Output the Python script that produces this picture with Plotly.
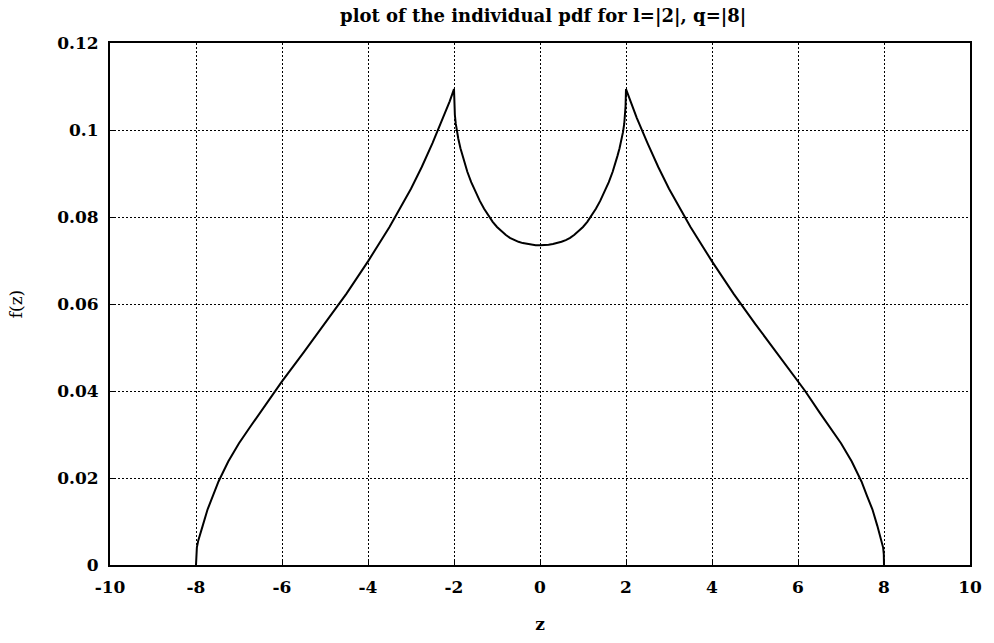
import plotly.graph_objects as go

z_vals = [-8.0, -7.995, -7.98, -7.95, -7.92, -7.845, -7.73, -7.6, -7.476, -7.25, -7.0, -6.75, -6.5, -6.166, -6.0,
          -5.5, -5.0, -4.5, -4.0, -3.5, -3.0, -2.75, -2.5, -2.25, -2.1, -2.0,
          -1.99, -1.98, -1.96, -1.93, -1.9, -1.85, -1.8, -1.75, -1.69, -1.6, -1.5, -1.4, -1.3, -1.2, -1.1,
          -1.0, -0.9, -0.8, -0.7, -0.6, -0.5, -0.4, -0.3, -0.2, -0.1, 0.0,
          0.1, 0.2, 0.3, 0.4, 0.5, 0.6, 0.7, 0.8, 0.9, 1.0,
          1.1, 1.2, 1.3, 1.4, 1.5, 1.6, 1.69, 1.75, 1.8, 1.85, 1.9, 1.93, 1.96, 1.98, 1.99,
          2.0, 2.1, 2.25, 2.5, 2.75, 3.0, 3.5, 4.0, 4.5, 5.0, 5.5,
          6.0, 6.166, 6.5, 6.75, 7.0, 7.25, 7.476, 7.6, 7.73, 7.845, 7.92, 7.95, 7.98, 7.995, 8.0]
f_vals = [0.0, 0.0025, 0.0040, 0.0055, 0.0064, 0.0090, 0.0128, 0.0160, 0.0192, 0.0238, 0.0280, 0.0316, 0.0351, 0.0400, 0.0422,
          0.0488, 0.0555, 0.0624, 0.0698, 0.0777, 0.0865, 0.0915, 0.0970, 0.1028, 0.1066, 0.1094,
          0.1055, 0.1035, 0.1015, 0.0995, 0.0980, 0.0958, 0.0940, 0.0922, 0.0904, 0.0880, 0.0858, 0.0837, 0.0819, 0.0803, 0.0789,
          0.0777, 0.0767, 0.0759, 0.0752, 0.0747, 0.0743, 0.0740, 0.0738, 0.0736, 0.0735, 0.0735,
          0.0735, 0.0736, 0.0738, 0.0740, 0.0743, 0.0747, 0.0752, 0.0759, 0.0767, 0.0777,
          0.0789, 0.0803, 0.0819, 0.0837, 0.0858, 0.0880, 0.0904, 0.0922, 0.0940, 0.0958, 0.0980, 0.0995, 0.1015, 0.1035, 0.1055,
          0.1094, 0.1066, 0.1028, 0.0970, 0.0915, 0.0865, 0.0777, 0.0698, 0.0624, 0.0555, 0.0488,
          0.0422, 0.0400, 0.0351, 0.0316, 0.0280, 0.0238, 0.0192, 0.0160, 0.0128, 0.0090, 0.0064, 0.0055, 0.0040, 0.0025, 0.0]

x_ticks = [-10, -8, -6, -4, -2, 0, 2, 4, 6, 8, 10]
x_tick_text = ["-10", "-8", "-6", "-4", "-2", "0", "2", "4", "6", "8", "10"]
y_ticks = [0, 0.02, 0.04, 0.06, 0.08, 0.1, 0.12]
y_tick_text = ["0", "0.02", "0.04", "0.06", "0.08", "0.1", "0.12"]

title_text = "plot of the individual pdf for l=|2|, q=|8|"
x_label = "z"
y_label = "f(z)"

font_family = "DejaVu Serif"

fig = go.Figure()
fig.add_trace(go.Scatter(x=z_vals, y=f_vals, mode="lines",
                         line=dict(color="black", width=2), showlegend=False,
                         hoverinfo="skip"))

fig.update_layout(
    width=994, height=643,
    paper_bgcolor="white", plot_bgcolor="white",
    margin=dict(l=110, r=18, t=43, b=75),
    title=dict(text="<b>" + title_text + "</b>", x=0.5465, xanchor="center",
               y=1 - 16 / 643, yanchor="middle",
               font=dict(family=font_family, size=18, color="black")),
    font=dict(family=font_family, color="black"),
)

axis_common = dict(
    showline=True, linecolor="black", linewidth=2, mirror=True,
    showgrid=True, gridcolor="black", gridwidth=1, griddash="2px,2px",
    zeroline=False, ticks="inside", ticklen=5, tickcolor="black",
    tickfont=dict(family=font_family, size=17, color="black"),
)

fig.update_xaxes(range=[-10, 10], tickvals=x_ticks, ticktext=["<b>" + t + "</b>" for t in x_tick_text],
                 ticklabelstandoff=6,
                 title=dict(text="<b>" + x_label + "</b>", standoff=22,
                            font=dict(family=font_family, size=17, color="black")),
                 **axis_common)
fig.update_yaxes(range=[0, 0.12], tickvals=y_ticks, ticktext=["<b>" + t + "</b>" for t in y_tick_text],
                 ticklabelstandoff=6,
                 title=dict(text=y_label, standoff=30,
                            font=dict(family=font_family, size=17, color="black")),
                 **axis_common)

fig.write_html("out.html")
